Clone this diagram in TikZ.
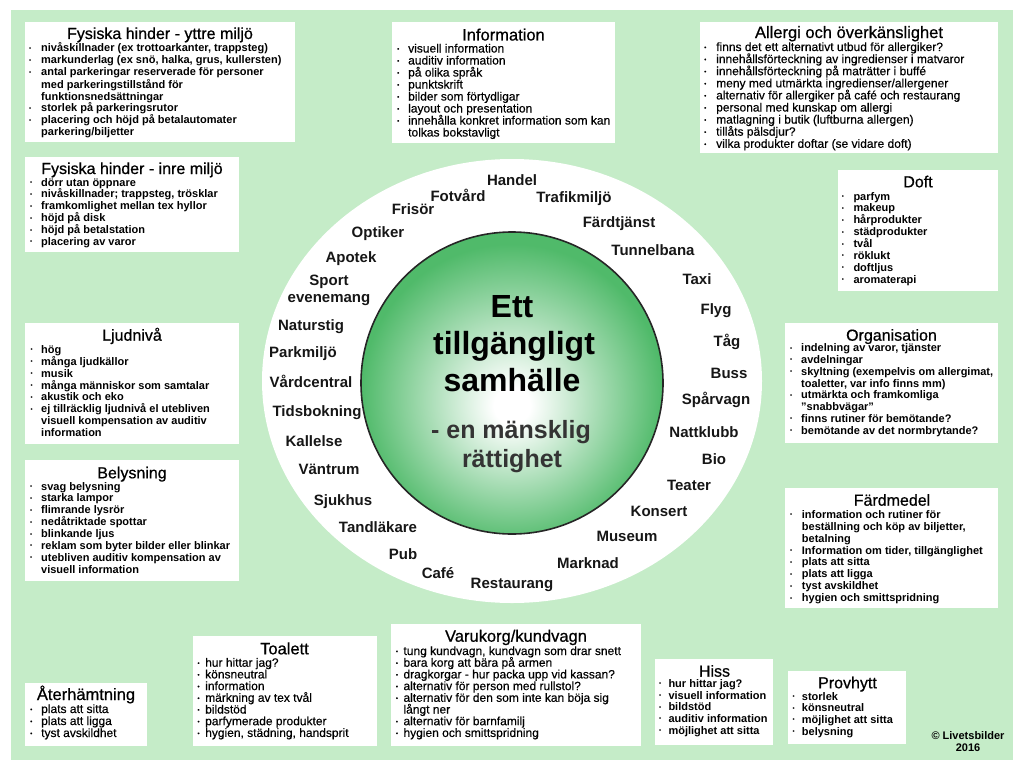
\documentclass[tikz,border=0pt]{standalone}
\usepackage{fontspec}
\setmainfont{Liberation Sans}
\newfontfamily\medfont[FakeBold=0.6]{Liberation Sans}
\newfontfamily\lstfont[FakeBold=0.35]{Liberation Sans}
\definecolor{bggreen}{RGB}{197,236,200}
\definecolor{ballgreen}{RGB}{80,186,106}
\definecolor{subgray}{RGB}{52,52,52}
\definecolor{labelink}{RGB}{22,22,22}
\pgfdeclareradialshading{glow}{\pgfpoint{0bp}{-4bp}}{color(0bp)=(white); color(3bp)=(white); color(25bp)=(ballgreen); color(50bp)=(ballgreen)}
\newlength\bw
\lineskiplimit=-20pt
\newcommand\bul{\raisebox{1.6pt}{\fontsize{6}{6}\selectfont\textbullet}}
\newcommand\itm[1]{\hbox{\makebox[\bw][l]{\bul}#1}}
\newcommand\cnt[1]{\hbox{\hspace*{\bw}#1}}
\newcommand\blist[4]{\parbox[t]{#1}{\setlength\bw{#2}\lineskiplimit=-20pt\fontsize{11}{#3}\bfseries\selectfont #4}}
\newcommand\nlist[4]{\parbox[t]{#1}{\setlength\bw{#2}\lineskiplimit=-20pt\lstfont\fontsize{12}{#3}\selectfont #4}}
\begin{document}
\begin{tikzpicture}[x=1pt,y=-1pt,
  panel/.style={fill=white, draw=none, inner sep=0, outer sep=0, anchor=north west},
  hb/.style={font=\medfont\fontsize{16}{18}\selectfont, anchor=base, inner sep=0},
  hn/.style={font=\medfont\fontsize{16.5}{18}\selectfont, anchor=base, inner sep=0},
  lst/.style={anchor=base west, inner sep=0},
  place/.style={font=\fontsize{15}{17}\bfseries\selectfont, text=labelink, inner sep=0, anchor=base},
  bigt/.style={font=\fontsize{32}{36}\bfseries\selectfont, text=black, inner sep=0, anchor=base},
  subt/.style={font=\fontsize{25}{28}\bfseries\selectfont, text=subgray, inner sep=0, anchor=base},
  copy/.style={font=\fontsize{11}{12}\bfseries\selectfont, inner sep=0, anchor=base}]
\useasboundingbox (0,0) rectangle (1024,768);
\fill[bggreen] (11,10) rectangle (1013,760);
% central figure
\fill[white] (512,381) ellipse [x radius=250, y radius=222];
\shade[shading=glow] (512,383) circle [radius=151];
\draw[line width=1.6pt, black!85] (512,383) circle [radius=151];

% ---------- panels ----------
\node[panel, minimum width=270, minimum height=120] (p1) at (25,22) {};
\node[panel, minimum width=214, minimum height=95] (p2) at (25,157) {};
\node[panel, minimum width=223, minimum height=121] (p3) at (392,22) {};
\node[panel, minimum width=298, minimum height=131] (p4) at (700,22) {};
\node[panel, minimum width=160, minimum height=121] (p5) at (838,170) {};
\node[panel, minimum width=214, minimum height=121] (p6) at (25,323) {};
\node[panel, minimum width=213, minimum height=120] (p7) at (785,323) {};
\node[panel, minimum width=214, minimum height=121] (p8) at (25,460) {};
\node[panel, minimum width=213, minimum height=120] (p9) at (785,488) {};
\node[panel, minimum width=122, minimum height=63] (p10) at (25,683) {};
\node[panel, minimum width=184, minimum height=110] (p11) at (193,636) {};
\node[panel, minimum width=250, minimum height=122] (p12) at (391,624) {};
\node[panel, minimum width=118, minimum height=86] (p13) at (655,659) {};
\node[panel, minimum width=118, minimum height=73] (p14) at (788,671) {};

% ---------- titles ----------
\node[hb] (t1) at (160,39) {Fysiska hinder - yttre miljö};
\node[hb] (t2) at (132,174) {Fysiska hinder - inre miljö};
\node[hn] (t3) at (503.5,40.5) {Information};
\node[hn] (t4) at (849,38) {Allergi och överkänslighet};
\node[hb] (t5) at (918,187.3) {Doft};
\node[hb] (t6) at (132,340.7) {Ljudnivå};
\node[hb] (t7) at (891.5,340.7) {Organisation};
\node[hb] (t8) at (132,478.3) {Belysning};
\node[hb] (t9) at (892,505.7) {Färdmedel};
\node[hn] (t10) at (86,700) {Återhämtning};
\node[hn] (t11) at (284.5,654.3) {Toalett};
\node[hn] (t12) at (516,641.7) {Varukorg/kundvagn};
\node[hb] (t13) at (714.5,676.7) {Hiss};
\node[hb] (t14) at (847.5,688.3) {Provhytt};

% ---------- lists ----------
\node[lst] (l1) at (29,52) {\blist{264pt}{12pt}{12}{%
  \itm{nivåskillnader (ex trottoarkanter, trappsteg)}
  \itm{markunderlag (ex snö, halka, grus, kullersten)}
  \itm{antal parkeringar reserverade för personer}
  \cnt{med parkeringstillstånd för}
  \cnt{funktionsnedsättningar}
  \itm{storlek på parkeringsrutor}
  \itm{placering och höjd på betalautomater}
  \cnt{parkering/biljetter}}};
\node[lst] (l2) at (30,186) {\blist{207pt}{11pt}{11.9}{%
  \itm{dörr utan öppnare}
  \itm{nivåskillnader; trappsteg, trösklar}
  \itm{framkomlighet mellan tex hyllor}
  \itm{höjd på disk}
  \itm{höjd på betalstation}
  \itm{placering av varor}}};
\node[lst] (l3) at (397,52.5) {\nlist{216pt}{11pt}{12}{%
  \itm{visuell information}
  \itm{auditiv information}
  \itm{på olika språk}
  \itm{punktskrift}
  \itm{bilder som förtydligar}
  \itm{layout och presentation}
  \itm{innehålla konkret information som kan}
  \cnt{tolkas bokstavligt}}};
\node[lst] (l4) at (704,51) {\nlist{292pt}{12pt}{12.1}{%
  \itm{finns det ett alternativt utbud för allergiker?}
  \itm{innehållsförteckning av ingredienser i matvaror}
  \itm{innehållsförteckning på maträtter i buffé}
  \itm{meny med utmärkta ingredienser/allergener}
  \itm{alternativ för allergiker på café och restaurang}
  \itm{personal med kunskap om allergi}
  \itm{matlagning i butik (luftburna allergen)}
  \itm{tillåts pälsdjur?}
  \itm{vilka produkter doftar (se vidare doft)}}};
\node[lst] (l5) at (841.7,200) {\blist{154pt}{11.6pt}{11.9}{%
  \itm{parfym}
  \itm{makeup}
  \itm{hårprodukter}
  \itm{städprodukter}
  \itm{tvål}
  \itm{röklukt}
  \itm{doftljus}
  \itm{aromaterapi}}};
\node[lst] (l6) at (30.5,353.3) {\blist{206pt}{10.5pt}{11.9}{%
  \itm{hög}
  \itm{många ljudkällor}
  \itm{musik}
  \itm{många människor som samtalar}
  \itm{akustik och eko}
  \itm{ej tillräcklig ljudnivå el utebliven}
  \cnt{visuell kompensation av auditiv}
  \cnt{information}}};
\node[lst] (l7) at (790,351.7) {\blist{206pt}{11pt}{11.8}{%
  \itm{indelning av varor, tjänster}
  \itm{avdelningar}
  \itm{skyltning (exempelvis om allergimat,}
  \cnt{toaletter, var info finns mm)}
  \itm{utmärkta och framkomliga}
  \cnt{"snabbvägar"}
  \itm{finns rutiner för bemötande?}
  \itm{bemötande av det normbrytande?}}};
\node[lst] (l8) at (30,490) {\blist{207pt}{11pt}{11.9}{%
  \itm{svag belysning}
  \itm{starka lampor}
  \itm{flimrande lysrör}
  \itm{nedåtriktade spottar}
  \itm{blinkande ljus}
  \itm{reklam som byter bilder eller blinkar}
  \itm{utebliven auditiv kompensation av}
  \cnt{visuell information}}};
\node[lst] (l9) at (790,518.3) {\blist{206pt}{11.7pt}{11.9}{%
  \itm{information och rutiner för}
  \cnt{beställning och köp av biljetter,}
  \cnt{betalning}
  \itm{Information om tider, tillgänglighet}
  \itm{plats att sitta}
  \itm{plats att ligga}
  \itm{tyst avskildhet}
  \itm{hygien och smittspridning}}};
\node[lst] (l10) at (30,713) {\nlist{115pt}{11pt}{12}{%
  \itm{plats att sitta}
  \itm{plats att ligga}
  \itm{tyst avskildhet}}};
\node[lst] (l11) at (197.3,666.7) {\nlist{178pt}{7.7pt}{11.7}{%
  \itm{hur hittar jag?}
  \itm{könsneutral}
  \itm{information}
  \itm{märkning av tex tvål}
  \itm{bildstöd}
  \itm{parfymerade produkter}
  \itm{hygien, städning, handsprit}}};
\node[lst] (l12) at (395.7,655) {\nlist{244pt}{7.6pt}{11.7}{%
  \itm{tung kundvagn, kundvagn som drar snett}
  \itm{bara korg att bära på armen}
  \itm{dragkorgar - hur packa upp vid kassan?}
  \itm{alternativ för person med rullstol?}
  \itm{alternativ för den som inte kan böja sig}
  \cnt{långt ner}
  \itm{alternativ för barnfamilj}
  \itm{hygien och smittspridning}}};
\node[lst] (l13) at (659,687.3) {\blist{113pt}{9.3pt}{11.7}{%
  \itm{hur hittar jag?}
  \itm{visuell information}
  \itm{bildstöd}
  \itm{auditiv information}
  \itm{möjlighet att sitta}}};
\node[lst] (l14) at (792.3,700) {\blist{112pt}{9.4pt}{11.7}{%
  \itm{storlek}
  \itm{könsneutral}
  \itm{möjlighet att sitta}
  \itm{belysning}}};

% ---------- places around the circle ----------
\node[place] (s1) at (512,185) {Handel};
\node[place] (s2) at (458,201) {Fotvård};
\node[place] (s3) at (574,202) {Trafikmiljö};
\node[place] (s4) at (413,214) {Frisör};
\node[place] (s5) at (619,227) {Färdtjänst};
\node[place] (s6) at (378,237) {Optiker};
\node[place] (s7) at (653,255) {Tunnelbana};
\node[place] (s8) at (351,262) {Apotek};
\node[place] (s9) at (697,284) {Taxi};
\node[place, align=center, anchor=center, font=\fontsize{15}{17}\bfseries\selectfont] (s10) at (329,290.6) {Sport\\evenemang};
\node[place] (s11) at (716,314) {Flyg};
\node[place] (s12) at (311,330) {Naturstig};
\node[place] (s13) at (727,346) {Tåg};
\node[place] (s14) at (303,357) {Parkmiljö};
\node[place] (s15) at (729,378) {Buss};
\node[place] (s16) at (311,387) {Vårdcentral};
\node[place] (s17) at (716,404) {Spårvagn};
\node[place] (s18) at (317,416) {Tidsbokning};
\node[place] (s19) at (704,437) {Nattklubb};
\node[place] (s20) at (314,446) {Kallelse};
\node[place] (s21) at (714,464) {Bio};
\node[place] (s22) at (329,474) {Väntrum};
\node[place] (s23) at (689,490) {Teater};
\node[place] (s24) at (343,505) {Sjukhus};
\node[place] (s25) at (659,516) {Konsert};
\node[place] (s26) at (378,532) {Tandläkare};
\node[place] (s27) at (627,541) {Museum};
\node[place] (s28) at (403,559) {Pub};
\node[place] (s29) at (588,568) {Marknad};
\node[place] (s30) at (438,578) {Café};
\node[place] (s31) at (512,588) {Restaurang};

% ---------- centre text ----------
\node[bigt] (c1) at (512,317) {Ett};
\node[bigt] (c2) at (514,354) {tillgängligt};
\node[bigt] (c3) at (512,391) {samhälle};
\node[subt] (c4) at (511,438) {- en mänsklig};
\node[subt] (c5) at (512,467) {rättighet};

% ---------- copyright ----------
\node[copy] (cp1) at (968,739.3) {© Livetsbilder};
\node[copy] (cp2) at (968,751.7) {2016};
\end{tikzpicture}
\end{document}
